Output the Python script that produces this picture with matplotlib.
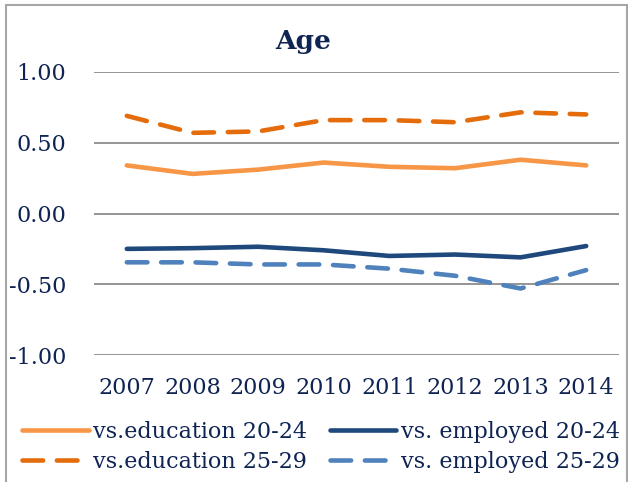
import matplotlib
matplotlib.use("Agg")
import matplotlib.pyplot as plt
from matplotlib.patches import Rectangle

years = ["2007", "2008", "2009", "2010", "2011", "2012", "2013", "2014"]
edu_20_24 = [0.34, 0.28, 0.31, 0.36, 0.33, 0.32, 0.38, 0.34]
emp_20_24 = [-0.25, -0.245, -0.235, -0.26, -0.30, -0.29, -0.31, -0.23]
edu_25_29 = [0.69, 0.57, 0.58, 0.66, 0.66, 0.645, 0.715, 0.70]
emp_25_29 = [-0.345, -0.345, -0.36, -0.36, -0.39, -0.44, -0.53, -0.40]
yticks = [-1.0, -0.5, 0.0, 0.5, 1.0]

txt = "#0F2453"
plt.rcParams['font.family'] = ['DejaVu Serif']

fig = plt.figure(figsize=(6.28, 4.82), dpi=100)
ax = fig.add_axes([94/628, 1-355/482, (619-94)/628, (355-72)/482])

x = list(range(len(years)))
lw = 3.3
l1, = ax.plot(x, edu_20_24, color="#F79646", lw=lw, solid_capstyle='round', label="vs.education 20-24")
l2, = ax.plot(x, emp_20_24, color="#1F497D", lw=lw, solid_capstyle='round', label="vs. employed 20-24")
l3, = ax.plot(x, edu_25_29, color="#E46C0A", lw=lw, dashes=(4.5, 3), dash_capstyle='round', label="vs.education 25-29")
l4, = ax.plot(x, emp_25_29, color="#4F81BD", lw=lw, dashes=(4.5, 3), dash_capstyle='round', label="vs. employed 25-29")

ax.set_xlim(-0.5, len(years) - 0.5)
ax.set_ylim(-1.0, 1.0)
ax.set_yticks(yticks)
ax.set_yticklabels([f"{v:.2f}" for v in yticks])
ax.set_xticks(x)
ax.set_xticklabels(years)
ax.tick_params(axis='both', length=0, labelsize=16, colors=txt)
ax.tick_params(axis='y', pad=20)
ax.tick_params(axis='x', pad=16)
for s in ax.spines.values():
    s.set_visible(False)
ax.grid(axis='y', color="#8C8C8C", lw=1.3)
ax.set_axisbelow(True)

fig.text(303/628, 1-42/482, "Age", ha='center', va='center', fontsize=19, fontweight='bold', color=txt)

leg = fig.legend(handles=[l1, l3, l2, l4], ncol=2, loc='center', bbox_to_anchor=(321/628, 1-447/482),
                 frameon=False, fontsize=16, handlelength=3.0, handletextpad=0.2, columnspacing=1.0,
                 labelspacing=0.35)
for t in leg.get_texts():
    t.set_color(txt)

fig.patches.append(Rectangle((6/628, -0.1), (627-6)/628, 1.1 - 5/482, transform=fig.transFigure,
                             fill=False, edgecolor="#A6A6A6", lw=1.5))

fig.savefig("out.png", dpi=100)
